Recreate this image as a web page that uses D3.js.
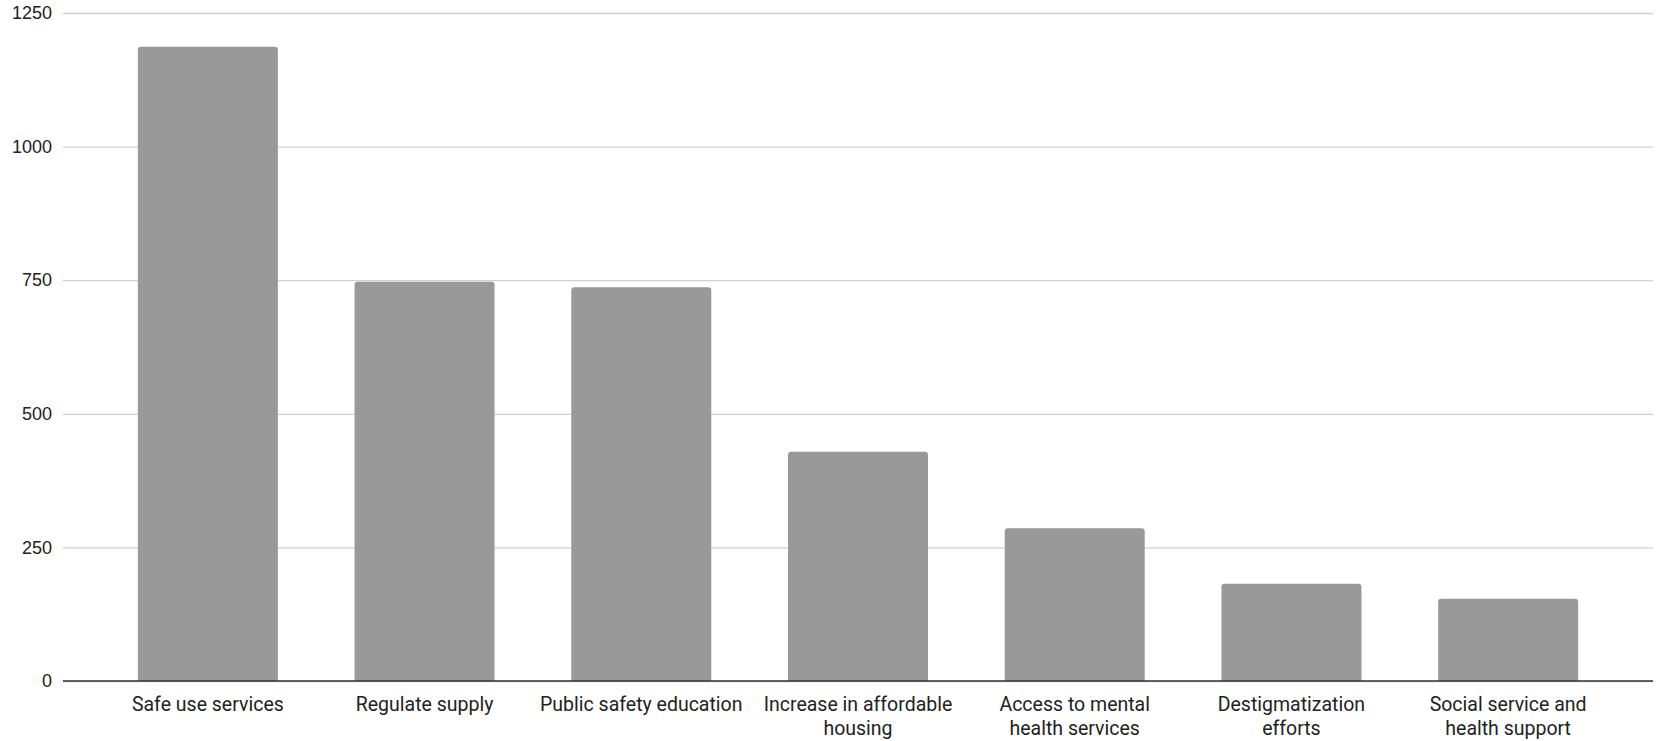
<!DOCTYPE html>
<html>
<head>
<meta charset="utf-8">
<script src="https://cdn.jsdelivr.net/npm/d3@7"></script>
<style>
  html, body { margin: 0; padding: 0; background: #fff; }
  svg { display: block; font-family: Roboto, "Noto Sans", sans-serif; }
</style>
</head>
<body>
<svg id="chart" width="1657" height="741"></svg>
<script>
// Responses by priority area
const categories = [
  "Safe use services",
  "Regulate supply",
  "Public safety education",
  "Increase in affordable housing",
  "Access to mental health services",
  "Destigmatization efforts",
  "Social service and health support"
];
const values = [1187, 747, 737, 429, 286, 182, 154];
const yTicks = [0, 250, 500, 750, 1000, 1250];

const svg = d3.select("#chart");
const gridLeft = 63, gridRight = 1653;
const plotTop = 13, plotBottom = 681;

const x = d3.scaleBand()
  .domain(categories)
  .range([99.5, 1616.5])
  .paddingInner(0.354)
  .paddingOuter(0.177);

const y = d3.scaleLinear()
  .domain([0, 1250])
  .range([plotBottom, plotTop]);

// horizontal gridlines with tick labels
const yAxis = d3.axisLeft(y)
  .tickValues(yTicks)
  .tickSize(-(gridRight - gridLeft))
  .tickPadding(11)
  .tickFormat(d3.format("d"));

const gy = svg.append("g")
  .attr("transform", `translate(${gridLeft},0)`)
  .call(yAxis);
gy.select(".domain").remove();
gy.selectAll(".tick line")
  .attr("stroke", "#d0d0d0")
  .attr("stroke-width", 1.3);
gy.selectAll(".tick text")
  .attr("fill", "#222")
  .attr("font-size", 18);

// bars with rounded top corners
const r = 3;
function barPath(d, i) {
  const x0 = x(categories[i]), x1 = x0 + x.bandwidth();
  const y0 = y(0), y1 = y(d);
  return `M${x0},${y0}V${y1 + r}Q${x0},${y1} ${x0 + r},${y1}H${x1 - r}Q${x1},${y1} ${x1},${y1 + r}V${y0}Z`;
}
svg.append("g")
  .selectAll("path")
  .data(values)
  .join("path")
  .attr("d", barPath)
  .attr("fill", "#999999");

// baseline
svg.append("line")
  .attr("x1", gridLeft).attr("x2", gridRight)
  .attr("y1", y(0)).attr("y2", y(0))
  .attr("stroke", "#333")
  .attr("stroke-width", 1.3);

// category labels, wrapped to fit the band
const labelG = svg.append("g");
const maxWidth = 208;
categories.forEach(cat => {
  const cx = x(cat) + x.bandwidth() / 2;
  const t = labelG.append("text")
    .attr("x", cx)
    .attr("y", 711)
    .attr("text-anchor", "middle")
    .attr("font-size", 19.5)
    .attr("fill", "#222");
  let line = [];
  let tspan = t.append("tspan").attr("x", cx).attr("dy", 0);
  cat.split(" ").forEach(w => {
    line.push(w);
    tspan.text(line.join(" "));
    if (tspan.node().getComputedTextLength() > maxWidth && line.length > 1) {
      line.pop();
      tspan.text(line.join(" "));
      line = [w];
      tspan = t.append("tspan")
        .attr("x", cx)
        .attr("dy", 24)
        .text(w);
    }
  });
});
</script>
</body>
</html>
